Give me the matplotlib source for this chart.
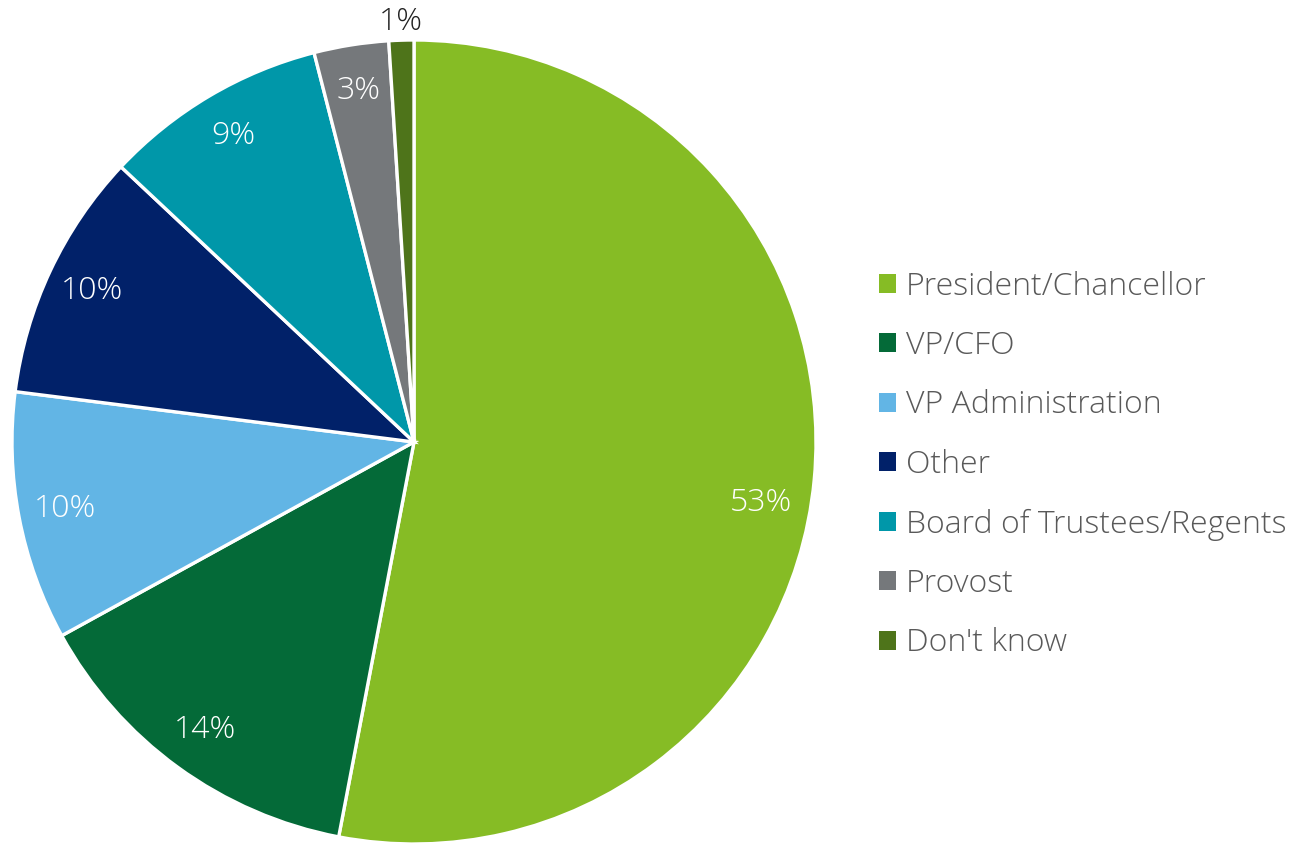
import numpy as np
import matplotlib.pyplot as plt
from matplotlib.patches import Patch

plt.rcParams['font.family'] = ['Open Sans', 'DejaVu Sans']

categories = ['President/Chancellor', 'VP/CFO', 'VP Administration', 'Other',
              'Board of Trustees/Regents', 'Provost', "Don't know"]
shares = [53, 14, 10, 10, 9, 3, 1]
colors = ['#86BC25', '#046A38', '#62B5E5', '#012169', '#0097A9', '#75787B', '#4E741A']

fig = plt.figure(figsize=(12.99, 8.44), dpi=100)
W, H = 1299, 844
# pie axes: centre (414, 442) px from top-left, radius 402 px
ax = fig.add_axes([12 / W, (H - 442 - 402) / H, 804 / W, 804 / H])

wedges, texts, autotexts = ax.pie(
    shares, colors=colors, startangle=90, counterclock=False, radius=1,
    autopct=lambda p: f'{p:.0f}%', pctdistance=0.885,
    wedgeprops=dict(edgecolor='white', linewidth=2.4),
    textprops=dict(fontsize=23, fontweight='light'))
# pie() resets the limits, so set them afterwards
ax.set_xlim(-1, 1)
ax.set_ylim(-1, 1)
ax.set_aspect('equal')
ax.axis('off')

for t, v in zip(autotexts, shares):
    t.set_color('white')
    t.set_clip_on(False)
    if v < 2:
        # tiny slice: label sits outside the rim
        x, y = t.get_position()
        t.set_position((x * 1.18, y * 1.18))
        t.set_color('#222222')

# big slice label sits a little below its mid-angle
x, y = autotexts[0].get_position()
ang = np.arctan2(y, x) - np.radians(4.5)
r = np.hypot(x, y) * 0.99
autotexts[0].set_position((r * np.cos(ang), r * np.sin(ang)))

handles = [Patch(facecolor=c, edgecolor='none') for c in colors]
leg = fig.legend(handles, categories, loc='center left',
                 bbox_to_anchor=(866 / W, 1 - 465 / H), frameon=False,
                 fontsize=23, handlelength=0.55, handleheight=0.55,
                 handletextpad=0.3, labelspacing=0.86, borderaxespad=0)
for t in leg.get_texts():
    t.set_color('#595959')
    t.set_fontweight('light')

fig.savefig('out.png', dpi=100)
